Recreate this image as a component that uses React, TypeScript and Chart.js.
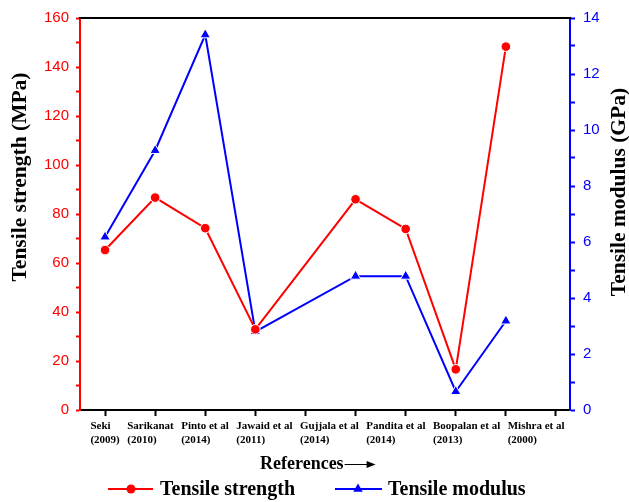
import React, { useEffect, useRef } from 'react';
import { Chart, registerables } from 'chart.js';

Chart.register(...registerables);

// ---- data ----
const categories: string[][] = [
  ['Seki', '(2009)'],
  ['Sarikanat', '(2010)'],
  ['Pinto et al', '(2014)'],
  ['Jawaid et al', '(2011)'],
  ['Gujjala et al', '(2014)'],
  ['Pandita et al', '(2014)'],
  ['Boopalan et al', '(2013)'],
  ['Mishra et al', '(2000)'],
];
const xIndex = [1, 2, 3, 4, 6, 7, 8, 9];
const xTickValues = [1, 2, 3, 4, 5, 6, 7, 8, 9, 10];
const tensileStrength = [65.3, 86.7, 74.2, 32.9, 86.0, 73.9, 16.6, 148.3];
const tensileModulus = [6.18, 9.27, 13.4, 2.8, 4.78, 4.78, 0.66, 3.18];
const strengthTicks = [0, 20, 40, 60, 80, 100, 120, 140, 160];
const modulusTicks = [0, 2, 4, 6, 8, 10, 12, 14];

const RED = '#ff0000';
const BLUE = '#0000ff';
const SERIF = '"Liberation Serif", "Times New Roman", serif';
const SANS = '"Liberation Sans", Arial, sans-serif';

const withMinor = (major: number[]) => {
  const out: number[] = [];
  for (let i = 0; i < major.length; i++) {
    out.push(major[i]);
    if (i < major.length - 1) out.push((major[i] + major[i + 1]) / 2);
  }
  return out;
};

const decorPlugin = {
  id: 'decor',
  afterDraw(chart: any) {
    const { ctx, chartArea, scales } = chart;
    const { left, right, top, bottom } = chartArea;
    ctx.save();
    // top frame line
    ctx.strokeStyle = '#000';
    ctx.lineWidth = 2;
    ctx.beginPath();
    ctx.moveTo(left - 1, top);
    ctx.lineTo(right + 1, top);
    ctx.stroke();

    // category labels (flow layout)
    ctx.fillStyle = '#000';
    ctx.font = `bold 11px ${SERIF}`;
    ctx.textAlign = 'left';
    ctx.textBaseline = 'alphabetic';
    const widths = categories.map((c) => Math.max(...c.map((s) => ctx.measureText(s).width)));
    let x = scales.x.getPixelForValue(xTickValues[0]) - widths[0] / 2;
    categories.forEach((c, i) => {
      ctx.fillText(c[0], x, bottom + 19);
      ctx.fillText(c[1], x, bottom + 33);
      x += widths[i] + 7.5;
    });

    // x title with arrow
    ctx.font = `bold 18px ${SERIF}`;
    const tx = 260;
    const ty = 469;
    ctx.fillText('References', tx, ty);
    const tw = ctx.measureText('References').width;
    ctx.lineWidth = 1;
    ctx.beginPath();
    ctx.moveTo(tx + tw + 1, ty - 4.5);
    ctx.lineTo(tx + tw + 24, ty - 4.5);
    ctx.stroke();
    ctx.beginPath();
    ctx.moveTo(tx + tw + 32, ty - 4.5);
    ctx.lineTo(tx + tw + 23, ty - 8);
    ctx.lineTo(tx + tw + 23, ty - 1);
    ctx.closePath();
    ctx.fill();

    // y titles
    ctx.font = `bold 21.5px ${SERIF}`;
    ctx.textAlign = 'center';
    ctx.textBaseline = 'middle';
    ctx.save();
    ctx.translate(20, 177);
    ctx.rotate(-Math.PI / 2);
    ctx.fillText('Tensile strength (MPa)', 0, 0);
    ctx.restore();
    ctx.save();
    ctx.translate(619, 192);
    ctx.rotate(-Math.PI / 2);
    ctx.fillText('Tensile modulus (GPa)', 0, 0);
    ctx.restore();

    // legend
    const ly = 489;
    ctx.lineWidth = 2;
    ctx.strokeStyle = RED;
    ctx.beginPath();
    ctx.moveTo(108, ly);
    ctx.lineTo(153, ly);
    ctx.stroke();
    ctx.fillStyle = RED;
    ctx.beginPath();
    ctx.arc(131, ly, 4.5, 0, Math.PI * 2);
    ctx.fill();
    ctx.strokeStyle = BLUE;
    ctx.beginPath();
    ctx.moveTo(335, ly);
    ctx.lineTo(382, ly);
    ctx.stroke();
    ctx.fillStyle = BLUE;
    const r = 5.5;
    ctx.beginPath();
    ctx.moveTo(358, ly - r);
    ctx.lineTo(358 + r * 0.866, ly + r / 2);
    ctx.lineTo(358 - r * 0.866, ly + r / 2);
    ctx.closePath();
    ctx.fill();
    ctx.fillStyle = '#000';
    ctx.font = `bold 20px ${SERIF}`;
    ctx.textAlign = 'left';
    ctx.textBaseline = 'alphabetic';
    ctx.fillText('Tensile strength', 160, ly + 6);
    ctx.fillText('Tensile modulus', 388, ly + 6);
    ctx.restore();
  },
};

export default function App() {
  const ref = useRef<HTMLCanvasElement>(null);
  useEffect(() => {
    if (!ref.current) return;
    const chart = new Chart(ref.current, {
      type: 'line',
      data: {
        datasets: [
          {
            label: 'Tensile strength',
            data: xIndex.map((x, i) => ({ x, y: tensileStrength[i] })),
            yAxisID: 'y',
            borderColor: RED,
            backgroundColor: RED,
            borderWidth: 2,
            pointStyle: 'circle',
            pointRadius: 4.8,
            pointBorderColor: '#fff',
            pointBorderWidth: 1,
            pointBackgroundColor: RED,
            tension: 0,
          },
          {
            label: 'Tensile modulus',
            data: xIndex.map((x, i) => ({ x, y: tensileModulus[i] })),
            yAxisID: 'y1',
            borderColor: BLUE,
            backgroundColor: BLUE,
            borderWidth: 2,
            pointStyle: 'triangle',
            pointRadius: 6,
            pointBorderColor: '#fff',
            pointBorderWidth: 1,
            pointBackgroundColor: BLUE,
            tension: 0,
          },
        ],
      },
      options: {
        animation: false,
        responsive: false,
        devicePixelRatio: 1,
        layout: { padding: { top: 18, left: 0, right: 0, bottom: 0 } },
        plugins: { legend: { display: false }, title: { display: false }, tooltip: { enabled: false } },
        scales: {
          x: {
            type: 'linear',
            min: 0.5,
            max: 10.28,
            afterBuildTicks: (s: any) => {
              s.ticks = xTickValues.map((v) => ({ value: v }));
            },
            afterFit: (s: any) => {
              s.height = 92;
            },
            border: { color: '#000', width: 2 },
            grid: { drawOnChartArea: false, drawTicks: true, tickLength: 6, tickWidth: 2, tickColor: '#000' },
            ticks: { display: false, autoSkip: false },
          },
          y: {
            type: 'linear',
            position: 'left',
            min: 0,
            max: 160,
            afterBuildTicks: (s: any) => {
              s.ticks = withMinor(strengthTicks).map((v) => ({ value: v }));
            },
            afterFit: (s: any) => {
              s.width = 80;
            },
            border: { color: RED, width: 2 },
            grid: { drawOnChartArea: false, tickLength: 4, tickWidth: 2, tickColor: RED },
            ticks: {
              autoSkip: false,
              color: RED,
              padding: 7,
              font: { family: SANS, size: 15 },
              callback: (v: any) => (strengthTicks.includes(Number(v)) ? String(v) : ''),
            },
          },
          y1: {
            type: 'linear',
            position: 'right',
            min: 0,
            max: 14,
            afterBuildTicks: (s: any) => {
              s.ticks = withMinor(modulusTicks).map((v) => ({ value: v }));
            },
            afterFit: (s: any) => {
              s.width = 59;
            },
            border: { color: BLUE, width: 2 },
            grid: { drawOnChartArea: false, tickLength: 5, tickWidth: 2, tickColor: BLUE },
            ticks: {
              autoSkip: false,
              color: BLUE,
              padding: 8,
              font: { family: SANS, size: 15 },
              callback: (v: any) => (modulusTicks.includes(Number(v)) ? String(v) : ''),
            },
          },
        },
      },
      plugins: [decorPlugin],
    });
    return () => chart.destroy();
  }, []);
  return (
    <div style={{ position: 'fixed', left: 0, top: 0, width: 629, height: 502, background: '#fff' }}>
      <canvas ref={ref} width={629} height={502} style={{ width: 629, height: 502, display: 'block' }} />
    </div>
  );
}
